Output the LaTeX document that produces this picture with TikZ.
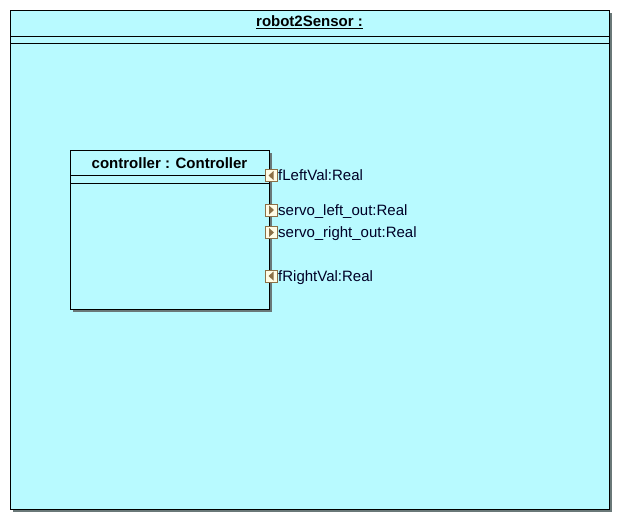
\documentclass[tikz,border=0pt]{standalone}
\usepackage{fontspec}
\setmainfont{Liberation Sans}
\usetikzlibrary{calc,shadows}
\definecolor{bgcyan}{HTML}{B8FAFF}
\definecolor{portfill}{HTML}{FFFCE6}
\definecolor{portedge}{HTML}{8C7046}
\definecolor{shadowcol}{HTML}{6A7878}
\tikzset{
  boxstyle/.style={rectangle, draw=black, fill=bgcyan, line width=1pt, inner sep=0pt, anchor=north west,
    drop shadow={shadow xshift=2pt, shadow yshift=-2pt, fill=shadowcol, opacity=1}},
  titletext/.style={font=\fontsize{15}{18}\selectfont\bfseries, inner sep=0pt},
  labeltext/.style={font=\fontsize{15}{18}\selectfont, inner sep=0pt, anchor=west, text height=10.5pt, text depth=2pt, text=black!85!blue},
  portbox/.style={rectangle, draw=portedge, fill=portfill, line width=1pt, minimum size=12pt, inner sep=0pt},
  inport/.style={portbox, path picture={
      \fill[portedge] ($(path picture bounding box.center)+(2.5,-4.5)$) -- ++(0,9) -- ++(-5,-4.5) -- cycle;}},
  outport/.style={portbox, path picture={
      \fill[portedge] ($(path picture bounding box.center)+(-2,-4.5)$) -- ++(0,9) -- ++(5,-4.5) -- cycle;}},
  sepline/.style={line width=1pt, draw=black}
}
\begin{document}
\begin{tikzpicture}[x=1pt,y=-1pt]
\useasboundingbox (0,0) rectangle (620,520);
% outer frame
\node[boxstyle, minimum width=599pt, minimum height=499pt] (frame) at (10,10) {};
\node[titletext] (frametitle) at (309.5,22.5) {\underline{robot2Sensor :}};
\draw[sepline] ($(frame.north west)+(0,26)$) -- ($(frame.north east)+(0,26)$);
\draw[sepline] ($(frame.north west)+(0,33)$) -- ($(frame.north east)+(0,33)$);
% controller part
\node[boxstyle, minimum width=199pt, minimum height=159pt] (ctrl) at (70,150) {};
\node[titletext] (ctrltitle) at (169.5,163) {controller : Controller};
\draw[sepline] ($(ctrl.north west)+(0,25)$) -- ($(ctrl.north east)+(0,25)$);
\draw[sepline] ($(ctrl.north west)+(0,33)$) -- ($(ctrl.north east)+(0,33)$);
% ports
\node[inport] (p1) at (271,175.5) {};
\node[outport] (p2) at (271,210) {};
\node[outport] (p3) at (271,232.5) {};
\node[inport] (p4) at (271,276) {};
\node[labeltext] (l1) at ($(p1.east)+(0.5,1)$) {fLeftVal:Real};
\node[labeltext] (l2) at ($(p2.east)+(0.5,1)$) {servo\_left\_out:Real};
\node[labeltext] (l3) at ($(p3.east)+(0.5,1)$) {servo\_right\_out:Real};
\node[labeltext] (l4) at ($(p4.east)+(0.5,1)$) {fRightVal:Real};
\end{tikzpicture}
\end{document}
